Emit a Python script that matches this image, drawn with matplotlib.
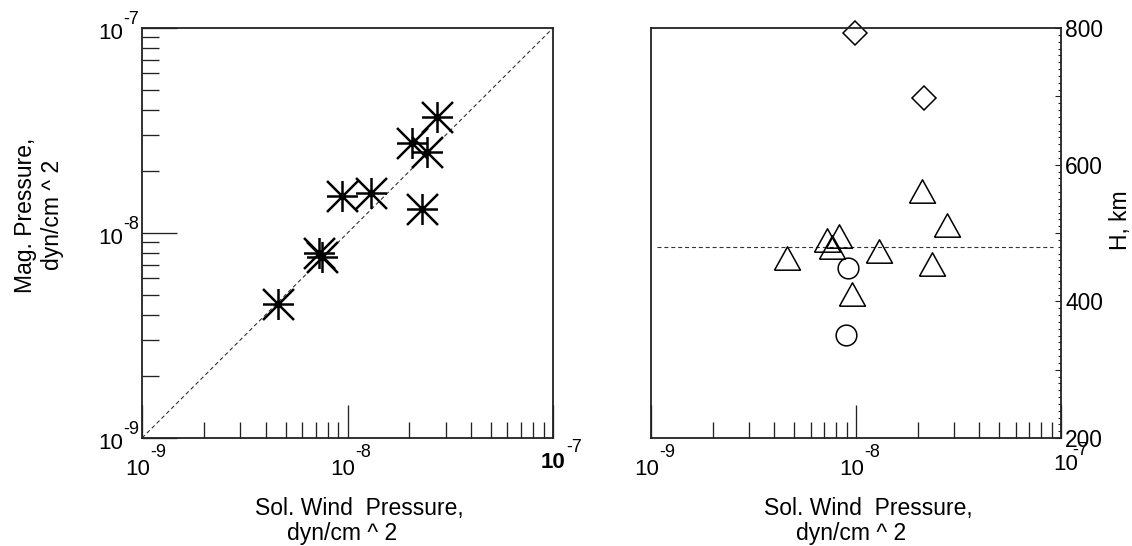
import matplotlib
matplotlib.use('Agg')
import matplotlib.pyplot as plt
import numpy as np
from matplotlib.path import Path
from matplotlib.ticker import LogLocator, NullFormatter, MultipleLocator, FuncFormatter
import matplotlib.transforms as mtransforms

plt.rcParams['font.family'] = ['Liberation Sans', 'DejaVu Sans']

# ---------------- data ----------------
# left panel: solar wind pressure vs magnetic pressure (dyn/cm^2)
sw_star = [4.6e-9, 7.25e-9, 7.55e-9, 9.4e-9, 1.30e-8, 2.07e-8, 2.43e-8, 2.74e-8, 2.30e-8]
mag_star = [4.5e-9, 7.95e-9, 7.65e-9, 1.51e-8, 1.57e-8, 2.74e-8, 2.49e-8, 3.69e-8, 1.31e-8]
diag_line = [1e-9, 1e-7]

# right panel: solar wind pressure vs height H (km)
sw_tri = [4.62e-9, 7.24e-9, 7.65e-9, 8.26e-9, 9.6e-9, 1.30e-8, 2.10e-8, 2.36e-8, 2.77e-8]
h_tri = [464, 490, 479, 495, 411, 473, 562, 454, 511]
sw_circ = [9.17e-9, 8.9e-9]
h_circ = [449, 351]
sw_diam = [9.9e-9, 2.15e-8]
h_diam = [793, 697]
h_ref = 480
h_ref_span = [1.07e-9, 9.1e-8]

p_range = [1e-9, 1e-7]
h_range = [200, 800]
decade_exps = [-9, -8, -7]
h_labeled = [200, 400, 600, 800]

# ---------------- figure ----------------
W, H = 1132, 546
fig = plt.figure(figsize=(W / 100, H / 100), dpi=100)
axL = fig.add_axes([142 / W, (H - 438) / H, 411 / W, 410 / H])
axR = fig.add_axes([651 / W, (H - 438) / H, 410 / W, 410 / H])

ink = '#222222'
spine_lw = 1.3
TEN_FS = 16
EXP_FS = 13

# star marker: + and x superposed
star_path = Path(
    [(-1, 0), (1, 0), (0, -1), (0, 1), (-1, -1), (1, 1), (-1, 1), (1, -1)],
    [Path.MOVETO, Path.LINETO] * 4,
)
tri_verts = [(-1, -0.9), (1, -0.9), (0, 0.9), (-1, -0.9)]


def style_log_x(ax):
    ax.set_xscale('log')
    ax.set_xlim(p_range)
    ax.xaxis.set_major_locator(LogLocator(base=10, numticks=10))
    ax.xaxis.set_minor_locator(LogLocator(base=10, subs=np.arange(2, 10), numticks=30))
    ax.xaxis.set_major_formatter(NullFormatter())
    ax.xaxis.set_minor_formatter(NullFormatter())
    ax.tick_params(axis='x', which='both', direction='in', top=False, bottom=True,
                   color=ink, width=0.95, labelbottom=False)
    ax.tick_params(axis='x', which='major', length=24)
    ax.tick_params(axis='x', which='minor', length=11.5)
    for s in ax.spines.values():
        s.set_linewidth(spine_lw)
        s.set_color(ink)


def x_decade_labels(ax, bold_last=False, last_pos=None):
    """last_pos: (dx_ten_right, dy_ten_baseline, dx_exp_left, dy_exp_baseline) in px."""
    trans = ax.get_xaxis_transform()
    for i, e in enumerate(decade_exps):
        x = 10.0 ** e
        last = i == len(decade_exps) - 1
        bold = bold_last and last
        if last and last_pos is not None:
            dxt, dyt, dxe, dye = last_pos
        else:
            dxt, dyt, dxe, dye = 8, -37, 8, -19
        t1 = mtransforms.offset_copy(trans, fig=fig, x=dxt, y=dyt, units='dots')
        t2 = mtransforms.offset_copy(trans, fig=fig, x=dxe, y=dye, units='dots')
        ax.text(x, 0, '10', transform=t1, ha='right', va='baseline', fontsize=TEN_FS,
                fontweight='bold' if bold else 'normal', color='black', clip_on=False)
        ax.text(x, 0, str(e), transform=t2, ha='left', va='baseline', fontsize=EXP_FS,
                color='black', clip_on=False)


def x_axis_title(ax):
    ax.annotate('Sol. Wind  Pressure,', xy=(0.5, 0), xycoords='axes fraction',
                xytext=(12 * 0.72, -77 * 0.72), textcoords='offset points',
                ha='center', va='baseline', fontsize=16.5, color='black')
    ax.annotate('dyn/cm ^ 2', xy=(0.5, 0), xycoords='axes fraction',
                xytext=(-5 * 0.72, -102 * 0.72), textcoords='offset points',
                ha='center', va='baseline', fontsize=16.5, color='black')


# ---------------- left panel ----------------
style_log_x(axL)
axL.set_yscale('log')
axL.set_ylim(p_range)
axL.yaxis.set_major_locator(LogLocator(base=10, numticks=10))
axL.yaxis.set_minor_locator(LogLocator(base=10, subs=np.arange(2, 10), numticks=30))
axL.yaxis.set_major_formatter(NullFormatter())
axL.yaxis.set_minor_formatter(NullFormatter())
axL.tick_params(axis='y', which='both', direction='in', left=True, right=False,
                color=ink, width=0.95, labelleft=False)
axL.tick_params(axis='y', which='major', length=25)
axL.tick_params(axis='y', which='minor', length=12.2)

axL.plot(diag_line, diag_line, ls=(0, (3.6, 2.6)), lw=0.8, color='#333333')
axL.plot(sw_star, mag_star, ls='none', marker=star_path, ms=22.3, mew=1.8,
         mec='black', mfc='none')

transY = axL.get_yaxis_transform()
for e in decade_exps:
    y = 10.0 ** e
    t1 = mtransforms.offset_copy(transY, fig=fig, x=-19, y=-11, units='dots')
    t2 = mtransforms.offset_copy(transY, fig=fig, x=-19, y=4, units='dots')
    axL.text(0, y, '10', transform=t1, ha='right', va='baseline', fontsize=TEN_FS,
             color='black', clip_on=False)
    axL.text(0, y, str(e), transform=t2, ha='left', va='baseline', fontsize=EXP_FS,
             color='black', clip_on=False)

x_decade_labels(axL, bold_last=True, last_pos=(12, -30, 13, -14))
x_axis_title(axL)

fig.text(39 / W, 1 - 215 / H, 'Mag. Pressure,\ndyn/cm ^ 2', rotation=90,
         ha='center', va='center', multialignment='center', fontsize=16.5,
         linespacing=1.2, color='black')

# ---------------- right panel ----------------
style_log_x(axR)
axR.set_ylim(h_range)
axR.yaxis.tick_right()
axR.yaxis.set_major_locator(MultipleLocator(100))
axR.yaxis.set_minor_locator(MultipleLocator(10))
axR.yaxis.set_major_formatter(
    FuncFormatter(lambda v, p: f'{v:.0f}' if int(round(v)) in h_labeled else ''))
axR.tick_params(axis='y', which='both', direction='in', left=False, right=True,
                labelleft=False, labelright=True, color=ink, width=0.8,
                labelsize=16.4, pad=3)
axR.tick_params(axis='y', which='major', length=4.3)
axR.tick_params(axis='y', which='minor', length=2.2)

axR.plot(h_ref_span, [h_ref, h_ref], ls=(0, (3.6, 2.6)), lw=0.8, color='#333333')
axR.plot(sw_tri, h_tri, ls='none', marker=tri_verts, ms=18.7, mew=1.1,
         mec='black', mfc='none')
axR.plot(sw_circ, h_circ, ls='none', marker='o', ms=14.9, mew=1.1,
         mec='black', mfc='none')
axR.plot(sw_diam, h_diam, ls='none', marker='D', ms=12.3, mew=1.1,
         mec='black', mfc='none', clip_on=False)

x_decade_labels(axR, last_pos=(17, -32, 11, -17))
x_axis_title(axR)

fig.text(1121 / W, 1 - 220 / H, 'H, km', rotation=90, ha='center', va='center',
         fontsize=16.5, color='black')

fig.savefig('out.png', dpi=100)
